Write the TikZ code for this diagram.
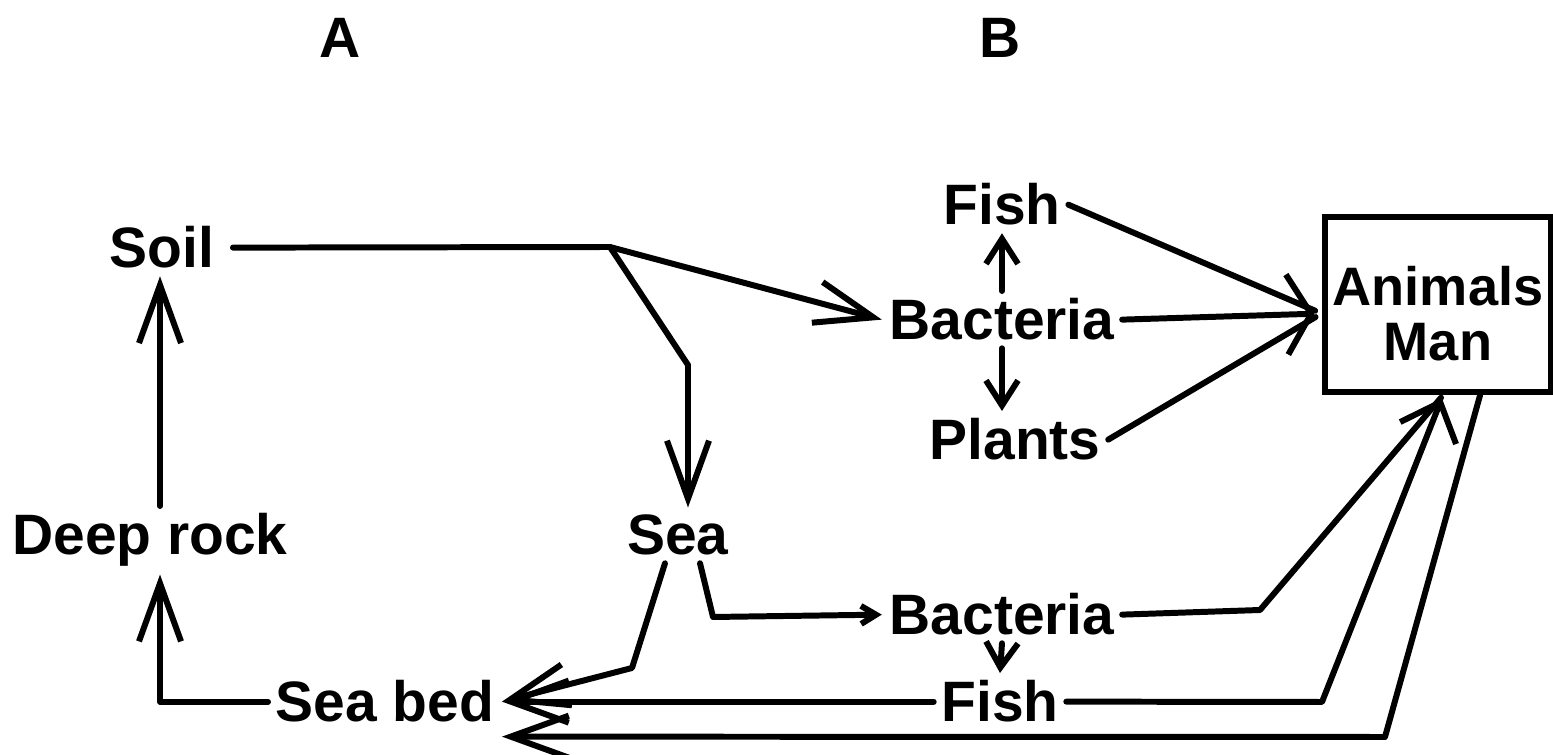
\documentclass[tikz,border=0pt]{standalone}
\usepackage{fontspec}
\setmainfont{Liberation Sans}
\usetikzlibrary{arrows.meta}
\begin{document}
\begin{tikzpicture}[x=0.01cm,y=-0.01cm,
  lbl/.style={font=\fontsize{16.2}{15.6}\selectfont\bfseries, inner sep=2pt, anchor=base},
  conn/.style={line width=1.7pt, line join=round, line cap=round},
  big/.style={conn, -{Straight Barb[length=0.58cm,width=0.42cm]}},
  wide/.style={conn, -{Straight Barb[length=0.24cm,width=0.8cm]}},
  wider/.style={conn, -{Straight Barb[length=0.33cm,width=0.6cm]}},
  small/.style={conn, -{Straight Barb[length=0.25cm,width=0.32cm]}},
  tiny/.style={conn, -{Straight Barb[length=0.15cm,width=0.18cm]}},
  boxed/.style={draw, line width=1.9pt, minimum width=2.26cm, minimum height=1.75cm,
    align=center, inner sep=0pt, font=\fontsize{15.4}{15.6}\selectfont\bfseries}]
\useasboundingbox (0,0) rectangle (1553,755);
\fill[white] (0,0) rectangle (1553,755);

% labels
\node[lbl] (A) at (340,58) {A};
\node[lbl] (B) at (1000,58) {B};
\node[lbl] (soil) at (162,268) {Soil};
\node[lbl] (deeprock) at (150,555) {Deep rock};
\node[lbl] (sea) at (678,555) {Sea};
\node[lbl] (seabed) at (385,722) {Sea bed};
\node[lbl] (fishA) at (1002,225) {Fish};
\node[lbl] (bactA) at (1002,340) {Bacteria};
\node[lbl] (plants) at (1015,460) {Plants};
\node[lbl] (bactB) at (1002,635) {Bacteria};
\node[lbl] (fishB) at (1000,722) {Fish};
\node[boxed] (am) at (1438,304.5) {\rule{0pt}{0.57cm}Animals\\Man};

% bend points
\coordinate (j1) at (610,247);
\coordinate (j2) at (688,365);
\coordinate (j3) at (632,668);
\coordinate (j4) at (713,617);
\coordinate (j5) at (1260,610);
\coordinate (j6) at (1322,702);
\coordinate (j7) at (1385,737);

% Soil branches
\draw[conn, shorten <=0.11cm] (soil.east) -- (j1);
\draw[big] (j1) -- (bactA.west);
\draw[big] (j1) -- (j2) -- ([xshift=0.1cm]sea.north);

% Fish / Bacteria / Plants
\draw[small] (bactA.north) -- (fishA.south);
\draw[small] (bactA.south) -- (bactA.south |- plants.north);
\draw[conn, shorten >=0.07cm] (fishA.east) -- ([yshift=-0.09cm]am.west);
\draw[wide, shorten >=0.07cm] (bactA.east) -- ([yshift=-0.09cm]am.west);
\draw[conn, shorten >=0.07cm] (plants.east) -- ([yshift=-0.09cm]am.west);

% left cycle
\draw[big] ([xshift=0.1cm]deeprock.north) -- ([xshift=0.1cm]deeprock.north |- soil.south);
\draw[big] (seabed.west) -| ([xshift=0.1cm]deeprock.south);

% Sea branches
\draw[big] ([xshift=-0.13cm]sea.south) -- (j3) -- (seabed.east);
\draw[tiny] ([xshift=0.22cm]sea.south) -- (j4) -- (bactB.west);
\draw[small] (bactB.south) -- (fishB.north);
\draw[conn, shorten >=0.03cm] (bactB.east) -- (j5) -- ([xshift=0.05cm]am.south);
\draw[big] (fishB.west) -- (seabed.east);
\draw[wider, shorten >=0.03cm] (fishB.east) -- (j6) -- ([xshift=0.05cm]am.south);
\draw[big] ([xshift=0.42cm]am.south) -- (j7) -- ([yshift=-0.35cm]seabed.east);
\end{tikzpicture}
\end{document}
